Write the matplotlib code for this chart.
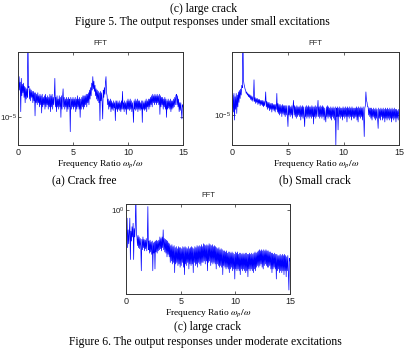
import numpy as np
import matplotlib
matplotlib.use("Agg")
import matplotlib.pyplot as plt
from matplotlib.ticker import LogLocator, NullLocator

plt.rcParams["mathtext.fontset"] = "stix"

# frequency-ratio grid (0 .. 15 step 0.05)
freq = np.round(np.arange(0, 301) * 0.05, 2)

# (a) Crack free, amplitude in units of 1e-5 (one row per unit of frequency ratio)
amp_a = np.array([
    3.4, 2.1, 3.7, 2.4, 3.1, 1.2, 3.5, 2.0, 2.9, 2.2, 3.0, 1.9, 2.7, 1.6, 2.6, 1.8, 2.5, 1.9, 20.0, 2.6,
    2.7, 1.8, 2.5, 1.7, 2.4, 1.9, 2.3, 1.6, 2.3, 1.7, 2.2, 1.05, 2.2, 1.6, 2.1, 1.5, 2.2, 1.6, 2.0, 1.4,
    2.1, 1.5, 2.0, 1.15, 2.1, 1.4, 1.9, 1.5, 2.0, 1.3, 2.1, 1.4, 1.9, 1.5, 2.0, 1.3, 1.9, 1.4, 2.1, 1.2,
    2.0, 1.4, 2.1, 1.3, 1.9, 1.5, 2.0, 3.5, 1.4, 1.9, 1.2, 2.0, 1.4, 1.8, 1.3, 2.0, 1.4, 1.9, 1.0, 2.0,
    1.3, 1.9, 2.5, 1.4, 1.9, 1.3, 1.8, 1.4, 1.9, 1.2, 1.8, 1.3, 1.9, 1.4, 1.8, 0.63, 1.9, 1.3, 1.8, 1.4,
    1.9, 1.3, 1.8, 1.4, 1.9, 1.2, 1.8, 1.3, 2.0, 1.4, 1.8, 1.3, 1.9, 1.0, 1.8, 1.3, 1.9, 1.4, 2.0, 1.3,
    2.0, 1.4, 2.0, 1.5, 2.1, 1.4, 2.1, 1.6, 2.2, 1.5, 2.4, 1.8, 2.6, 2.0, 3.0, 2.4, 3.7, 2.5, 3.2, 2.3,
    2.8, 2.0, 2.5, 1.8, 2.4, 1.7, 2.3, 1.6, 2.2, 0.9, 2.3, 1.7, 2.2, 1.6, 0.95, 2.4, 1.9, 2.6, 2.1, 3.1,
    3.7, 2.2, 2.0, 1.5, 1.8, 1.3, 1.7, 1.4, 1.8, 1.2, 1.7, 1.3, 1.6, 1.25, 1.7, 1.35, 1.6, 0.9, 1.7, 1.3,
    1.7, 1.2, 1.6, 1.3, 1.7, 1.25, 1.6, 1.2, 1.7, 1.3, 2.3, 1.3, 1.6, 1.2, 1.7, 1.3, 1.6, 1.1, 1.7, 1.3,
    1.8, 1.3, 1.7, 1.25, 1.8, 1.3, 1.7, 1.2, 1.6, 1.3, 0.85, 1.7, 1.3, 1.8, 1.25, 1.7, 1.3, 1.8, 1.2, 1.7,
    1.3, 1.7, 1.25, 1.6, 1.3, 1.7, 0.85, 1.7, 1.3, 1.6, 1.25, 1.7, 1.3, 1.8, 1.2, 1.7, 1.4, 1.8, 1.3, 1.8,
    1.4, 1.9, 1.5, 2.0, 1.4, 2.1, 1.6, 2.0, 1.5, 2.1, 1.6, 2.0, 1.5, 2.1, 1.6, 2.0, 1.5, 2.1, 1.1, 2.0,
    1.4, 1.9, 1.5, 1.9, 1.3, 1.8, 1.4, 1.9, 1.3, 1.8, 1.0, 1.7, 1.3, 1.8, 1.35, 1.7, 1.3, 1.8, 1.2, 1.7,
    1.3, 1.7, 1.35, 1.8, 1.4, 1.9, 1.5, 2.0, 2.1, 1.5, 2.0, 1.4, 1.8, 1.2, 1.6, 1.25, 1.6, 1.2, 0.95, 1.5,
    1.4]) * 1e-5

# (b) Small crack, amplitude in units of 1e-5
amp_b = np.array([
    1.3, 1.9, 1.1, 2.0, 0.85, 1.8, 1.2, 2.0, 1.05, 1.9, 1.3, 2.1, 1.5, 2.2, 1.7, 2.3, 1.9, 2.6, 2.4, 20.0,
    3.1, 2.7, 2.5, 2.3, 2.2, 2.0, 2.1, 1.9, 2.0, 1.8, 1.95, 1.75, 1.9, 1.65, 1.85, 1.6, 1.8, 1.55, 1.75, 3.1,
    1.55, 1.75, 1.45, 1.7, 1.5, 1.7, 1.4, 1.65, 1.45, 1.65, 1.35, 1.6, 1.4, 1.6, 1.35, 1.6, 1.3, 1.55, 1.35, 1.55,
    2.1, 1.3, 1.55, 1.2, 1.5, 1.25, 1.5, 1.15, 1.45, 1.2, 1.45, 1.1, 1.45, 1.2, 1.4, 1.15, 1.4, 1.1, 1.4, 1.2,
    2.0, 1.1, 1.45, 1.05, 1.4, 1.0, 1.4, 1.05, 1.35, 0.95, 1.4, 1.05, 1.35, 1.0, 1.35, 0.95, 1.35, 1.0, 1.35, 0.95,
    0.69, 1.35, 1.0, 1.35, 0.95, 1.3, 1.0, 1.35, 0.9, 1.3, 1.6, 1.0, 1.35, 0.95, 1.3, 0.9, 1.35, 0.95, 1.3, 1.0,
    1.3, 0.95, 1.35, 0.85, 1.3, 0.95, 1.35, 0.9, 1.3, 0.95, 0.69, 1.3, 0.95, 1.35, 0.9, 1.3, 0.95, 1.35, 0.9, 1.3,
    0.95, 1.3, 0.9, 1.35, 0.95, 1.3, 0.75, 1.3, 0.95, 1.35, 0.9, 1.3, 0.95, 1.25, 1.6, 0.95, 1.3, 0.9, 1.35, 0.95,
    1.3, 0.9, 1.35, 0.95, 1.3, 0.85, 1.25, 0.95, 0.8, 1.3, 0.95, 1.35, 0.9, 1.3, 0.95, 1.25, 0.9, 1.3, 0.85, 1.25,
    0.95, 1.3, 0.9, 1.25, 0.85, 1.3, 0.38, 1.25, 0.95, 1.3, 0.62, 1.25, 0.95, 1.3, 0.9, 1.25, 0.95, 1.25, 0.85, 1.3,
    0.95, 1.25, 0.9, 1.3, 0.95, 1.25, 0.8, 1.3, 0.95, 1.25, 0.9, 1.3, 0.95, 1.25, 0.85, 1.3, 0.95, 1.25, 0.9, 1.25,
    0.9, 1.25, 0.95, 1.3, 0.85, 1.25, 0.8, 1.3, 0.95, 1.25, 0.9, 1.3, 0.95, 1.25, 0.85, 1.3, 0.95, 0.5, 1.25, 1.35,
    2.1, 1.6, 1.5, 1.3, 1.3, 1.0, 1.25, 0.95, 1.25, 0.9, 1.25, 0.85, 1.2, 0.95, 1.25, 0.9, 1.2, 0.85, 1.25, 0.9,
    1.2, 0.9, 0.65, 1.25, 0.9, 1.2, 0.85, 1.25, 0.95, 1.2, 0.85, 1.25, 0.9, 1.2, 0.8, 1.25, 0.9, 1.2, 0.85, 1.25,
    0.9, 1.2, 0.85, 1.25, 0.9, 1.2, 0.8, 1.25, 0.9, 1.2, 0.85, 1.25, 0.9, 1.2, 0.8, 1.2, 0.9, 1.15, 0.85, 1.2,
    1.05]) * 1e-5

# (c) Large crack
amp_c = np.array([
    0.45, 0.62, 0.81, 0.38, 0.6, 0.42, 0.55, 0.81, 0.28, 0.58, 0.45, 0.65, 0.5, 0.71, 0.28, 0.62, 0.5, 0.68, 1.5, 0.55,
    0.5, 0.4, 0.52, 0.38, 0.5, 0.37, 0.48, 0.4, 0.21, 0.47, 0.36, 0.5, 0.38, 0.47, 0.35, 0.46, 0.37, 0.48, 0.35, 0.46,
    1.09, 0.36, 0.45, 0.33, 0.46, 0.34, 0.44, 0.32, 0.45, 0.21, 0.43, 0.33, 0.44, 0.22, 0.45, 0.34, 0.46, 0.33, 0.45, 0.35,
    0.46, 0.36, 0.5, 0.37, 0.48, 0.35, 0.5, 0.38, 0.6, 0.36, 0.48, 0.34, 0.47, 0.33, 0.46, 0.3, 0.45, 0.32, 0.43, 0.3,
    0.42, 0.26, 0.4, 0.27, 0.41, 0.25, 0.39, 0.26, 0.4, 0.2, 0.38, 0.25, 0.39, 0.26, 0.37, 0.24, 0.39, 0.25, 0.38, 0.23,
    0.38, 0.24, 0.37, 0.26, 0.39, 0.23, 0.38, 0.19, 0.39, 0.25, 0.38, 0.24, 0.37, 0.26, 0.39, 0.22, 0.37, 0.25, 0.38, 0.24,
    0.39, 0.25, 0.38, 0.2, 0.37, 0.26, 0.39, 0.24, 0.38, 0.25, 0.4, 0.23, 0.39, 0.26, 0.4, 0.25, 0.39, 0.24, 0.41, 0.26,
    0.39, 0.26, 0.42, 0.27, 0.41, 0.25, 0.4, 0.27, 0.41, 0.21, 0.4, 0.26, 0.42, 0.27, 0.41, 0.24, 0.4, 0.26, 0.41, 0.25,
    0.39, 0.26, 0.4, 0.25, 0.39, 0.22, 0.38, 0.25, 0.37, 0.24, 0.38, 0.23, 0.36, 0.24, 0.37, 0.23, 0.36, 0.19, 0.35, 0.24,
    0.35, 0.23, 0.34, 0.22, 0.35, 0.23, 0.33, 0.22, 0.34, 0.2, 0.34, 0.22, 0.33, 0.23, 0.34, 0.21, 0.33, 0.22, 0.32, 0.17,
    0.34, 0.22, 0.33, 0.21, 0.34, 0.22, 0.32, 0.21, 0.33, 0.19, 0.33, 0.22, 0.32, 0.21, 0.33, 0.22, 0.32, 0.21, 0.33, 0.2,
    0.33, 0.21, 0.32, 0.18, 0.32, 0.22, 0.33, 0.21, 0.32, 0.22, 0.33, 0.21, 0.32, 0.2, 0.33, 0.22, 0.34, 0.21, 0.33, 0.23,
    0.34, 0.24, 0.35, 0.23, 0.36, 0.24, 0.35, 0.25, 0.36, 0.23, 0.35, 0.22, 0.36, 0.24, 0.35, 0.25, 0.36, 0.24, 0.35, 0.23,
    0.35, 0.23, 0.34, 0.24, 0.34, 0.22, 0.33, 0.2, 0.33, 0.22, 0.32, 0.23, 0.33, 0.22, 0.32, 0.17, 0.32, 0.21, 0.31, 0.22,
    0.31, 0.2, 0.32, 0.21, 0.31, 0.2, 0.32, 0.21, 0.31, 0.19, 0.32, 0.21, 0.31, 0.18, 0.3, 0.21, 0.31, 0.19, 0.128, 0.29,
    0.27])

xticks = [0, 5, 10, 15]
panel_title = "FFT"
xlabel = r"Frequency Ratio $\omega_p/\omega$"
captions = ["(a) Crack free", "(b) Small crack", "(c) large crack"]
top_caption = "(c) large crack"
fig5_caption = "Figure 5. The output responses under small excitations"
fig6_caption = "Figure 6. The output responses under moderate excitations"

W, H = 405, 348
fig = plt.figure(figsize=(W / 100, H / 100), dpi=100)

serif = "Liberation Serif"
sans = "Liberation Sans"

def make_axes(rect, amp, ylim):
    ax = fig.add_axes(rect)
    ax.plot(freq, amp, color="#0000ff", lw=0.5)
    ax.set_yscale("log")
    ax.set_xlim(0, 15)
    ax.set_ylim(*ylim)
    ax.set_xticks(xticks)
    ax.set_xticklabels([str(t) for t in xticks], fontfamily=sans, fontsize=6.5)
    ax.yaxis.set_major_locator(LogLocator(base=10, numticks=5))
    ax.yaxis.set_minor_locator(NullLocator())
    ax.tick_params(axis="both", direction="in", length=2, width=0.5,
                   top=True, right=True, pad=2, colors="#222222")
    ax.tick_params(axis="x", labelsize=6.5)
    ax.tick_params(axis="y", labelsize=5.8, pad=0.8)
    for lab in ax.get_yticklabels():
        lab.set_fontfamily(sans)
    for s in ax.spines.values():
        s.set_linewidth(0.7)
        s.set_color("#333333")
    ax.set_title(panel_title, fontfamily=sans, fontsize=5.5, pad=5, color="#222222")
    ax.set_xlabel(xlabel, fontfamily=serif, fontsize=6.8, labelpad=1)
    return ax

def rect_px(left, top, right, bottom):
    return [left / W, 1 - bottom / H, (right - left) / W, (bottom - top) / H]

axa = make_axes(rect_px(18, 51.7, 183, 145), amp_a, (10 ** -5.386, 10 ** -4.084))
axb = make_axes(rect_px(232.3, 51.7, 399.3, 145), amp_b, (10 ** -5.419, 10 ** -4.116))
axc = make_axes(rect_px(126, 204.3, 290, 294), amp_c, (10 ** -0.937, 10 ** 0.063))

def ftext(x, y, s, size):
    fig.text(x / W, 1 - y / H, s, ha="center", va="center",
             fontfamily=serif, fontsize=size)

ftext(204, 9, top_caption, 8.4)
ftext(202, 22.5, fig5_caption, 8.4)
ftext(84, 180, captions[0], 8.4)
ftext(315, 180, captions[1], 8.4)
ftext(208, 327, captions[2], 8.4)
ftext(205, 342, fig6_caption, 8.4)

fig.savefig("out.png", dpi=100)
